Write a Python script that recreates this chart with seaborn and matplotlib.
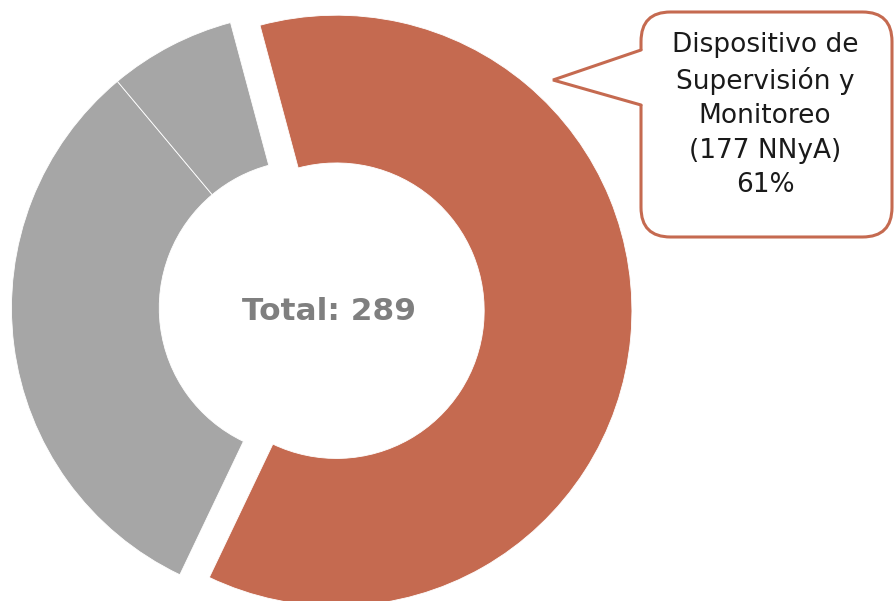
import matplotlib
matplotlib.use("Agg")
import matplotlib.pyplot as plt
import seaborn as sns
from matplotlib.patches import FancyBboxPatch, Polygon

categories = ["Dispositivo de Supervisión y Monitoreo", "Otros dispositivos", "Sin dato"]
values = [177, 92, 20]
colors = ["#C56A50", "#A6A6A6", "#A6A6A6"]
explode = [0.1, 0, 0]

total = sum(values)
pct = round(values[0] / total * 100)
label_text = "Dispositivo de\nSupervisión y\nMonitoreo\n({} NNyA)\n{}%".format(values[0], pct)

sns.set_style("white")
plt.rcParams['font.family'] = ['DejaVu Sans']

fig = plt.figure(figsize=(8.94, 6.01), dpi=100)
ax = fig.add_axes([0, 0, 1, 1])

ax.pie(values, colors=colors, explode=explode, startangle=105, counterclock=False,
       radius=1.0, wedgeprops=dict(width=0.5, edgecolor="white", linewidth=0.6))

# pixel -> data mapping so the ring sits where it does in the reference
scale = 295.5
cx, cy = 307, 308
def px(x, y):
    return (x - cx) / scale, (cy - y) / scale

ax.set_xlim(px(0, 0)[0], px(894, 0)[0])
ax.set_ylim(px(0, 601)[1], px(0, 0)[1])
ax.set_aspect("auto")
ax.axis("off")

# centre text
tx, ty = px(329, 312)
ax.text(tx, ty, "Total: {}".format(total), ha="center", va="center",
        fontsize=22.5, fontweight="bold", color="#7F7F7F")

# callout box
x0, y1 = px(641, 12)
x1, y0 = px(892, 237)
box = FancyBboxPatch((x0, y0), x1 - x0, y1 - y0,
                     boxstyle="round,pad=0,rounding_size=0.1",
                     facecolor="white", edgecolor="#C56A50", linewidth=2.2, zorder=5)
ax.add_patch(box)
tip = px(553, 80)
b_up = px(641, 50)
b_lo = px(641, 105)
ax.add_patch(Polygon([(b_up[0] + 0.01, b_up[1]), tip, (b_lo[0] + 0.01, b_lo[1])],
                     closed=True, facecolor="white", edgecolor="none", zorder=6))
ax.plot([b_up[0], tip[0], b_lo[0]], [b_up[1], tip[1], b_lo[1]],
        color="#C56A50", linewidth=2.2, solid_joinstyle="miter", zorder=7)

lx, ly = px(765, 115)
ax.text(lx, ly, label_text, ha="center", va="center", fontsize=19,
        color="#1A1A1A", linespacing=1.42, zorder=8)

fig.savefig("out.png", dpi=100)
